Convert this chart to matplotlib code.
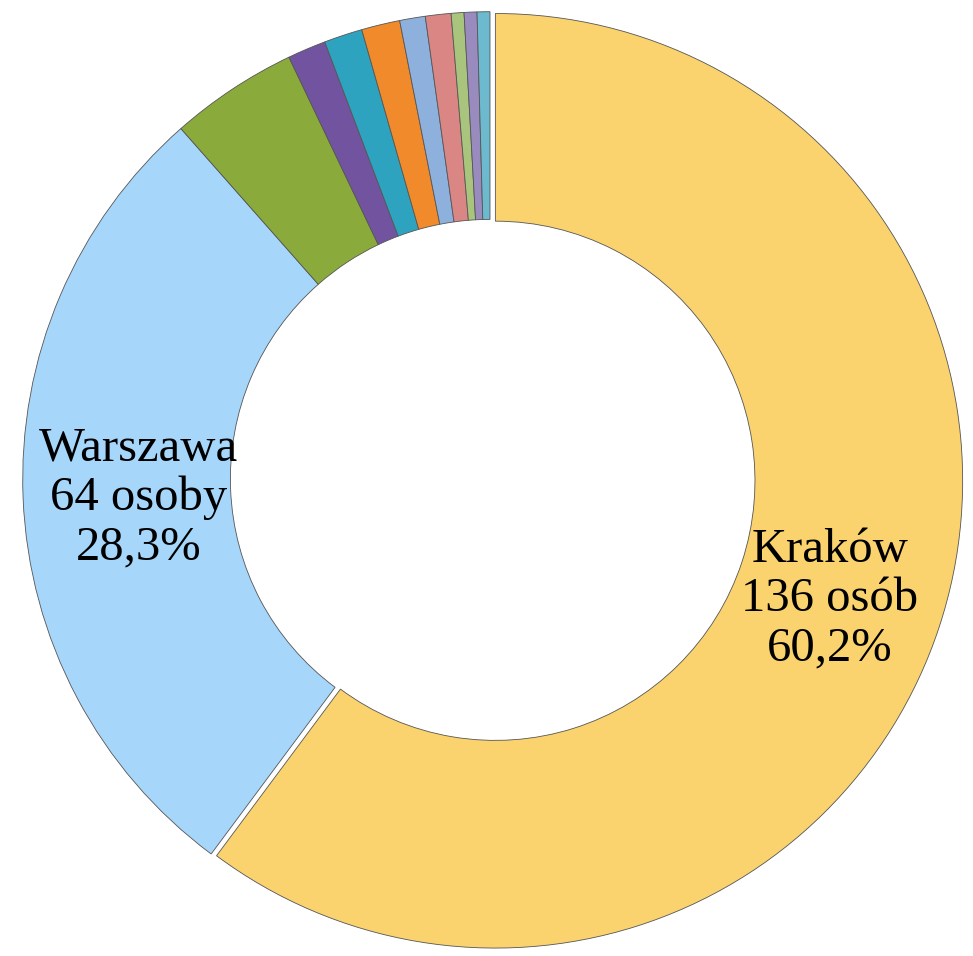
import numpy as np
import matplotlib.pyplot as plt

# cities and number of people (only the two largest are labelled)
cities = ["Kraków", "Warszawa", "c3", "c4", "c5", "c6", "c7", "c8", "c9", "c10", "c11"]
counts = [136, 64, 10, 3, 3, 3, 2, 2, 1, 1, 1]
units = ["osób", "osoby"]
colors = ["#FAD36F", "#A6D6FA", "#8AAB3B", "#7253A0", "#2EA3BF", "#F18A2A",
          "#8EB0DD", "#D98685", "#A9C47C", "#9A8BBF", "#6DB9CE"]

W, H = 973, 956
cx, cy, R = 490, 479, 472

fig = plt.figure(figsize=(W / 100, H / 100), dpi=100)
ax = fig.add_axes([(cx - R) / W, (H - cy - R) / H, 2 * R / W, 2 * R / H])

explode = [0.012] + [0] * (len(counts) - 1)
wedges, _ = ax.pie(counts, colors=colors, startangle=90, counterclock=False,
                   radius=0.99, explode=explode,
                   wedgeprops=dict(width=0.44, edgecolor="#555555", linewidth=0.6))
ax.set_xlim(-1, 1)
ax.set_ylim(-1, 1)
ax.set_aspect("auto")
ax.axis("off")

total = sum(counts)
label_pos = [(0.72, -0.255), (-0.745, -0.04)]
for i, (x, y) in enumerate(label_pos):
    pct = f"{100 * counts[i] / total:.1f}".replace(".", ",")
    ax.text(x, y, f"{cities[i]}\n{counts[i]} {units[i]}\n{pct}%",
            ha="center", va="center", fontsize=35, family="Liberation Serif",
            linespacing=1.15)

fig.savefig("out.png", dpi=100)
